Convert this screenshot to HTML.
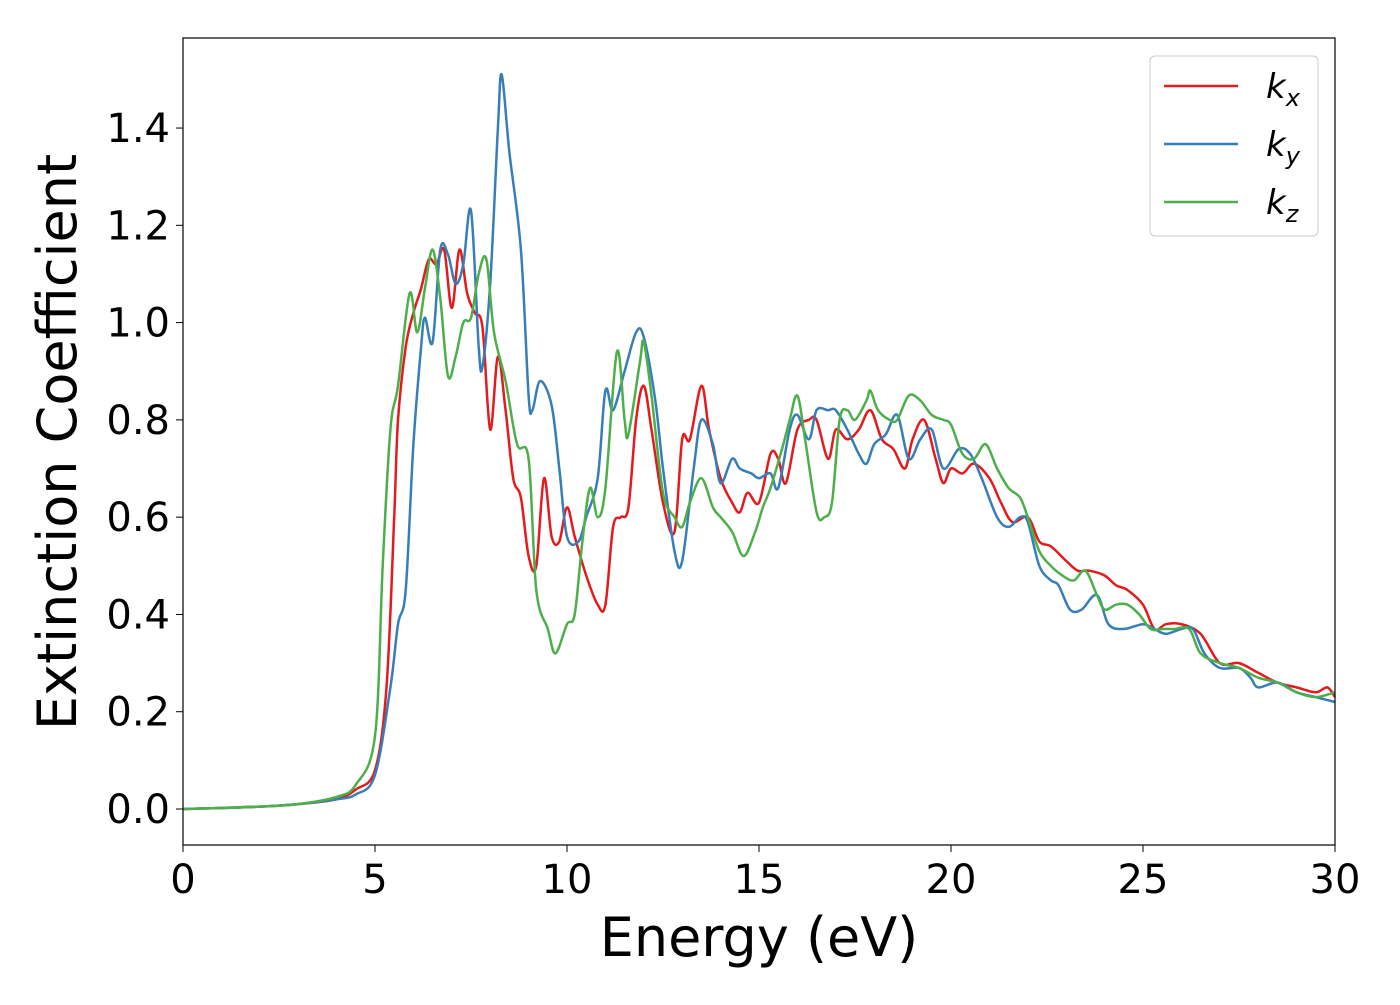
<!DOCTYPE html>
<html><head><meta charset="utf-8"><style>
html,body{margin:0;padding:0;background:#fff;}
svg text{font-family:"DejaVu Sans","Liberation Sans",sans-serif;fill:#000;}
</style></head><body>
<svg id="chart" width="1400" height="1000" xmlns="http://www.w3.org/2000/svg">
<rect x="0" y="0" width="1400" height="1000" fill="#fff"/>
<g id="series"></g>
<rect x="183" y="38" width="1152" height="807" fill="none" stroke="#000" stroke-width="1.2"/>
<g id="xticks"></g>
<g id="yticks"></g>
<text x="759" y="956" font-size="54" text-anchor="middle">Energy (eV)</text>
<text transform="translate(76,442) rotate(-90)" font-size="54" text-anchor="middle">Extinction Coefficient</text>
<g>
<rect x="1150" y="56" width="168" height="180" rx="5" fill="#fff" stroke="#ccc" stroke-width="1"/>
<g><line x1="1164" y1="86" x2="1238" y2="86" stroke="#e41a1c" stroke-width="2.5"/><text x="1266" y="98" font-size="34" font-style="italic">k<tspan font-size="24" dy="8">x</tspan></text></g>
<g><line x1="1164" y1="144" x2="1238" y2="144" stroke="#377eb8" stroke-width="2.5"/><text x="1266" y="156" font-size="34" font-style="italic">k<tspan font-size="24" dy="8">y</tspan></text></g>
<g><line x1="1164" y1="202" x2="1238" y2="202" stroke="#4daf4a" stroke-width="2.5"/><text x="1266" y="214" font-size="34" font-style="italic">k<tspan font-size="24" dy="8">z</tspan></text></g>
</g>
</svg>
<script>
const xTicks=[0,5,10,15,20,25,30];
const yTicks=[0.0,0.2,0.4,0.6,0.8,1.0,1.2,1.4];
const kxE=[0,1,2,3,4,4.5,5,5.3,5.5,5.6,5.8,6.0,6.2,6.4,6.6,6.8,7.0,7.2,7.4,7.6,7.8,8.0,8.2,8.4,8.6,8.8,9.0,9.2,9.4,9.6,9.8,10.0,10.2,10.5,10.8,11.0,11.2,11.4,11.6,11.8,12.0,12.2,12.5,12.8,13.0,13.2,13.5,13.7,14.0,14.3,14.5,14.7,15.0,15.3,15.5,15.7,16.0,16.3,16.5,16.8,17.0,17.3,17.6,17.9,18.2,18.5,18.8,19.0,19.3,19.6,19.8,20.0,20.3,20.6,21.0,21.3,21.6,22.0,22.3,22.6,23.0,23.3,23.6,24.0,24.3,24.6,25.0,25.3,25.6,26.0,26.5,27.0,27.5,28.0,28.5,29.0,29.5,29.8,30];
const kxV=[0,0.002,0.005,0.01,0.02,0.04,0.08,0.25,0.6,0.8,0.95,1.02,1.07,1.13,1.12,1.15,1.03,1.15,1.06,1.02,0.99,0.78,0.93,0.82,0.68,0.64,0.52,0.5,0.68,0.56,0.55,0.62,0.56,0.48,0.42,0.42,0.58,0.6,0.62,0.8,0.87,0.78,0.63,0.57,0.76,0.76,0.87,0.78,0.68,0.63,0.61,0.65,0.63,0.73,0.72,0.67,0.78,0.8,0.8,0.72,0.78,0.76,0.78,0.82,0.76,0.74,0.7,0.76,0.8,0.72,0.67,0.7,0.69,0.71,0.68,0.63,0.59,0.6,0.55,0.54,0.51,0.49,0.49,0.48,0.46,0.45,0.42,0.37,0.38,0.38,0.36,0.3,0.3,0.28,0.26,0.25,0.24,0.25,0.23];
const kyE=[0,1,2,3,4,4.5,5,5.4,5.6,5.8,6.0,6.2,6.3,6.5,6.7,6.9,7.1,7.3,7.5,7.7,7.8,8.0,8.2,8.3,8.5,8.8,9.0,9.1,9.3,9.6,9.8,10.0,10.3,10.5,10.8,11.0,11.2,11.5,11.8,12.0,12.3,12.5,12.8,13.0,13.3,13.5,13.8,14.0,14.3,14.5,14.8,15.0,15.3,15.5,15.8,16.0,16.3,16.5,16.8,17.0,17.3,17.6,17.8,18.0,18.3,18.6,18.9,19.2,19.5,19.8,20.2,20.5,20.8,21.2,21.5,21.8,22.0,22.3,22.6,22.8,23.1,23.4,23.8,24.1,24.5,25.0,25.3,25.6,26.0,26.3,26.6,27.0,27.5,27.8,28.0,28.5,29.0,29.5,30];
const kyV=[0,0.002,0.005,0.01,0.02,0.03,0.07,0.25,0.38,0.45,0.75,0.95,1.01,0.96,1.15,1.14,1.08,1.12,1.23,0.95,0.91,1.08,1.4,1.51,1.35,1.15,0.85,0.82,0.88,0.83,0.7,0.56,0.55,0.6,0.68,0.86,0.82,0.9,0.98,0.97,0.84,0.7,0.53,0.51,0.7,0.8,0.75,0.67,0.72,0.7,0.69,0.68,0.69,0.66,0.78,0.81,0.76,0.82,0.82,0.82,0.78,0.73,0.71,0.75,0.77,0.81,0.72,0.76,0.78,0.7,0.74,0.73,0.68,0.6,0.58,0.6,0.59,0.5,0.47,0.46,0.41,0.41,0.44,0.38,0.37,0.38,0.37,0.36,0.37,0.37,0.32,0.29,0.29,0.27,0.25,0.26,0.24,0.23,0.22];
const kzE=[0,1,2,3,4,4.5,5.0,5.2,5.4,5.6,5.9,6.1,6.3,6.5,6.7,6.9,7.1,7.3,7.5,7.7,7.9,8.1,8.4,8.7,9.0,9.2,9.5,9.7,10.0,10.2,10.4,10.6,10.8,11.0,11.3,11.5,11.6,11.9,12.0,12.2,12.5,12.8,13.0,13.2,13.5,13.8,14.0,14.3,14.6,14.9,15.1,15.3,15.6,15.8,16.0,16.2,16.5,16.7,16.9,17.1,17.3,17.5,17.8,17.9,18.1,18.4,18.6,18.9,19.2,19.5,19.8,20.0,20.3,20.6,20.9,21.2,21.5,21.8,22.0,22.3,22.6,22.9,23.2,23.5,23.8,24.0,24.3,24.6,24.9,25.2,25.5,25.8,26.2,26.5,27.0,27.5,28.0,28.5,29.0,29.5,30];
const kzV=[0,0.002,0.005,0.01,0.025,0.05,0.15,0.5,0.78,0.87,1.06,0.98,1.07,1.15,1.05,0.89,0.93,1.0,1.01,1.1,1.13,0.98,0.88,0.75,0.72,0.45,0.37,0.32,0.38,0.4,0.55,0.66,0.6,0.66,0.94,0.8,0.77,0.92,0.96,0.85,0.65,0.6,0.58,0.63,0.68,0.62,0.6,0.57,0.52,0.57,0.62,0.66,0.74,0.8,0.85,0.76,0.61,0.6,0.63,0.8,0.82,0.8,0.84,0.86,0.82,0.8,0.8,0.85,0.84,0.81,0.8,0.79,0.73,0.72,0.75,0.7,0.66,0.64,0.6,0.53,0.5,0.48,0.47,0.49,0.44,0.41,0.42,0.42,0.4,0.37,0.37,0.37,0.37,0.32,0.3,0.29,0.27,0.26,0.24,0.23,0.24];

const X0=183,X1=1335,Y0=809,PXU=486.4;
function xs(e){return X0+(e)/30*(X1-X0);}
function ys(v){return Y0-v*PXU;}
const NS="http://www.w3.org/2000/svg";
function pathD(E,V){
  const p=E.map((e,i)=>[xs(e),ys(V[i])]);
  let d="M"+p[0][0].toFixed(1)+","+p[0][1].toFixed(1);
  for(let i=0;i<p.length-1;i++){
    const a=p[Math.max(0,i-1)],b=p[i],c=p[i+1],n=p[Math.min(p.length-1,i+2)];
    const c1=[b[0]+(c[0]-a[0])/6,b[1]+(c[1]-a[1])/6];
    const c2=[c[0]-(n[0]-b[0])/6,c[1]-(n[1]-b[1])/6];
    d+="C"+c1[0].toFixed(1)+","+c1[1].toFixed(1)+" "+c2[0].toFixed(1)+","+c2[1].toFixed(1)+" "+c[0].toFixed(1)+","+c[1].toFixed(1);
  }
  return d;
}
const g=document.getElementById("series");
function addLine(E,V,color,name){
  const p=document.createElementNS(NS,"path");
  p.setAttribute("d",pathD(E,V));
  p.setAttribute("fill","none");p.setAttribute("stroke",color);p.setAttribute("stroke-width","2.5");
  
  
  g.appendChild(p);
}
addLine(kxE,kxV,"#e41a1c","series-kx");
addLine(kyE,kyV,"#377eb8","series-ky");
addLine(kzE,kzV,"#4daf4a","series-kz");
const xt=document.getElementById("xticks");
xTicks.forEach(t=>{
  const l=document.createElementNS(NS,"line");
  l.setAttribute("x1",xs(t));l.setAttribute("x2",xs(t));l.setAttribute("y1",845);l.setAttribute("y2",852);l.setAttribute("stroke","#000");
  
  
  xt.appendChild(l);
  const tx=document.createElementNS(NS,"text");
  tx.setAttribute("x",xs(t));tx.setAttribute("y",893);tx.setAttribute("font-size","40");tx.setAttribute("text-anchor","middle");
  tx.textContent=t;
  
  
  xt.appendChild(tx);
});
const yt=document.getElementById("yticks");
yTicks.forEach(t=>{
  const l=document.createElementNS(NS,"line");
  l.setAttribute("x1",176);l.setAttribute("x2",183);l.setAttribute("y1",ys(t));l.setAttribute("y2",ys(t));l.setAttribute("stroke","#000");
  
  
  yt.appendChild(l);
  const tx=document.createElementNS(NS,"text");
  tx.setAttribute("x",170);tx.setAttribute("y",ys(t)+14);tx.setAttribute("font-size","40");tx.setAttribute("text-anchor","end");
  tx.textContent=t.toFixed(1);
  
  
  yt.appendChild(tx);
});
</script>
</body></html>
